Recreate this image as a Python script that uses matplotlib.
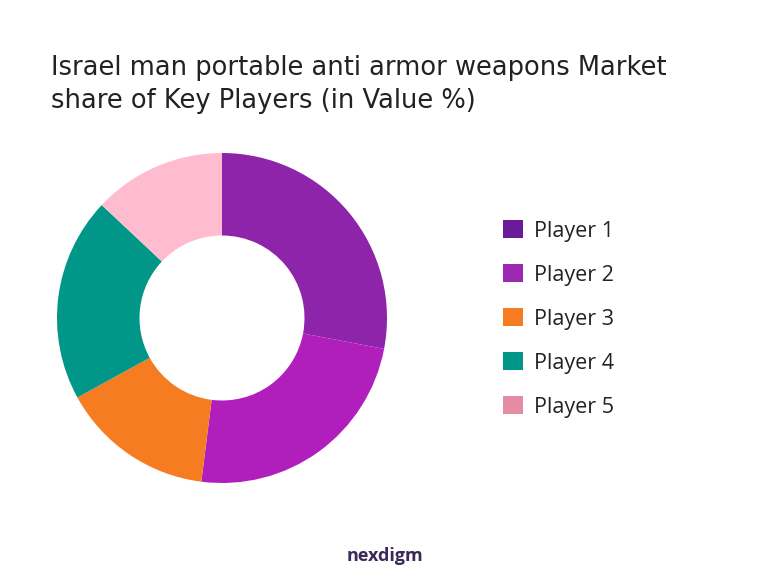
import matplotlib
matplotlib.use("Agg")
import matplotlib.pyplot as plt
from matplotlib.patches import Patch

labels = ["Player 1", "Player 2", "Player 3", "Player 4", "Player 5"]
values = [28, 24, 15, 20, 13]
slice_colors = ["#8e24aa", "#b01fbc", "#f57c20", "#009688", "#ffbbd0"]
legend_colors = ["#6a1b9a", "#9c27b0", "#f57c20", "#009688", "#e58ba3"]

plt.rcParams['font.family'] = ['Open Sans', 'DejaVu Sans']
fig = plt.figure(figsize=(7.70, 5.72), dpi=100)
R = 165
ax = fig.add_axes([(222 - R)/770, 1 - (318 + R)/572, 2*R/770, 2*R/572])
ax.pie(values, colors=slice_colors, startangle=90, counterclock=False,
       wedgeprops=dict(width=0.5, edgecolor='none'), radius=1, frame=False)
ax.set_xlim(-1, 1); ax.set_ylim(-1, 1)
ax.set_aspect('auto')
ax.axis('off')

tfont = dict(family=['DejaVu Sans'], fontsize=18.5, color="#222222", va='center')
fig.text(51/770, 1 - 68/572, "Israel man portable anti armor weapons Market", **tfont)
fig.text(51/770, 1 - 101/572, "share of Key Players (in Value %)", **tfont)

handles = [Patch(facecolor=c, edgecolor='none') for c in legend_colors]
fig.legend(handles, labels, loc='center left', bbox_to_anchor=(484/770, 1 - 319/572),
           frameon=False, fontsize=15.5, labelspacing=1.05, handlelength=0.9, handleheight=0.9,
           handletextpad=0.5, labelcolor="#222222")

fig.text(0.5, 1 - 556/572, "nexdigm", fontsize=13, color="#3a2a5a", ha='center', va='center', fontweight='bold')
fig.savefig("out.png", dpi=100, facecolor='white')
